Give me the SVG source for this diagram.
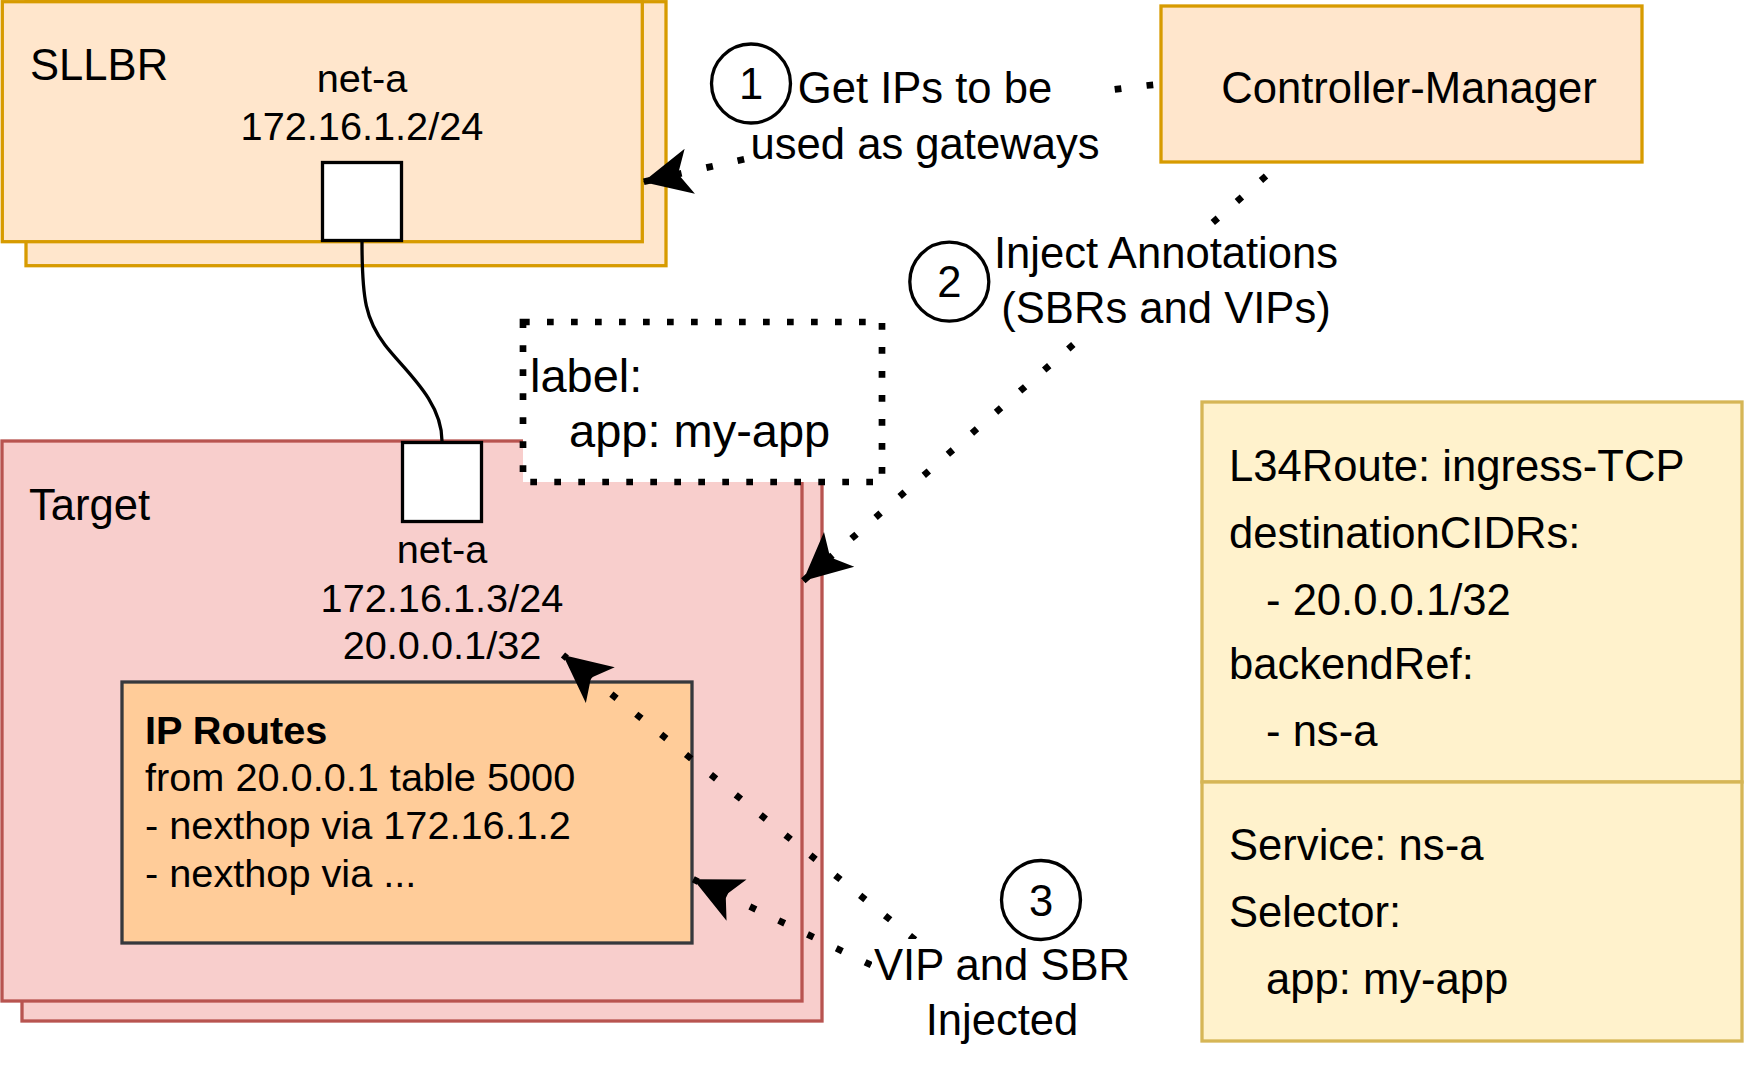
<svg xmlns="http://www.w3.org/2000/svg" width="1744" height="1080" viewBox="0 0 1744 1080">
<style>
text{font-family:"Liberation Sans",Arial,sans-serif;fill:#000}
.t{font-size:43.6px}
.s{font-size:39.7px}
.lb{font-size:47px}
.or{fill:#ffe6cc;stroke:#d79b00;stroke-width:3.3}
.rd{fill:#f8cecc;stroke:#b85450;stroke-width:3.3}
.ip{fill:#ffcc99;stroke:#36393d;stroke-width:3.3}
.yl{fill:#fff2cc;stroke:#d6b656;stroke-width:3.3}
.port{fill:#fff;stroke:#000;stroke-width:3.3}
.dot{fill:none;stroke:#000;stroke-width:6.7;stroke-dasharray:6.7 25.3}
.box{fill:#fff;stroke:#000;stroke-width:6.7;stroke-dasharray:6.7 17.3}
.circ{fill:none;stroke:#000;stroke-width:3.3}
.bg{fill:#fff}
</style>
<defs>
<marker id="arr" viewBox="-50 -26 52 52" markerWidth="52" markerHeight="52" refX="0" refY="0" orient="auto" markerUnits="userSpaceOnUse">
<path d="M0,0 L-48,-23 L-36,0 L-48,23 Z" fill="#000"/>
</marker>
</defs>

<g id="sllbr">
<rect class="or" x="26" y="1.7" width="640" height="264"/>
<rect class="or" x="2.3" y="1.7" width="640" height="240"/>
<text class="t" x="30" y="80">SLLBR</text>
<text class="s" x="362" y="92" text-anchor="middle">net-a</text>
<text class="s" x="362" y="140" text-anchor="middle">172.16.1.2/24</text>
</g>
<g id="sllbr-port">
<rect class="port" x="322.5" y="162.5" width="79" height="78"/>
</g>

<g id="controller-manager">
<rect class="or" x="1161" y="6" width="481" height="156"/>
<text class="t" x="1409" y="103" text-anchor="middle">Controller-Manager</text>
</g>

<g id="target">
<rect class="rd" x="22" y="461" width="800" height="560"/>
<rect class="rd" x="2" y="441" width="800" height="560"/>
<text class="t" x="29" y="520">Target</text>
<text class="s" x="442" y="563" text-anchor="middle">net-a</text>
<text class="s" x="442" y="611.5" text-anchor="middle">172.16.1.3/24</text>
<text class="s" x="442" y="659" text-anchor="middle">20.0.0.1/32</text>
</g>

<g id="ip-routes">
<rect class="ip" x="122" y="682" width="570" height="261"/>
<text class="s" x="145" y="743.5" font-weight="bold">IP Routes</text>
<text class="s" x="145" y="791">from 20.0.0.1 table 5000</text>
<text class="s" x="145" y="838.5">- nexthop via 172.16.1.2</text>
<text class="s" x="145" y="886.5">- nexthop via ...</text>
</g>

<g id="target-port">
<rect class="port" x="402.5" y="442.5" width="79" height="79"/>
</g>

<g id="label-box">
<rect class="box" x="523" y="322" width="359" height="160"/>
<text class="lb" x="530" y="392">label:</text>
<text class="lb" x="569" y="447">app: my-app</text>
</g>

<g id="l34route">
<rect class="yl" x="1202" y="402" width="540" height="380"/>
<text class="t" x="1229" y="480.5">L34Route: ingress-TCP</text>
<text class="t" x="1229" y="547.5">destinationCIDRs:</text>
<text class="t" x="1266" y="614.5">- 20.0.0.1/32</text>
<text class="t" x="1229" y="679">backendRef:</text>
<text class="t" x="1266" y="746">- ns-a</text>
</g>

<g id="service">
<rect class="yl" x="1202" y="782" width="540" height="259"/>
<text class="t" x="1229" y="860">Service: ns-a</text>
<text class="t" x="1229" y="927">Selector:</text>
<text class="t" x="1266" y="994">app: my-app</text>
</g>

<g id="connectors">
<path d="M362,242 C362,300 366,320 385,345 S442,400 442,441" fill="none" stroke="#000" stroke-width="3.3"/>
<path class="dot" d="M1161,84 Q1000,100 643,182" stroke-dashoffset="24" marker-end="url(#arr)"/>
<path class="dot" d="M1266,176 L803,581" marker-end="url(#arr)"/>
<path class="dot" d="M940,960 L563,655" marker-end="url(#arr)"/>
<path class="dot" d="M900,979 L693.3,879.3" marker-end="url(#arr)"/>
</g>

<g id="edge-labels">
<rect class="bg" x="747" y="60" width="360" height="112"/>
<circle class="circ" cx="751" cy="83.5" r="39.5"/>
<text class="t" x="751" y="99" text-anchor="middle">1</text>
<text class="t" x="925" y="103" text-anchor="middle">Get IPs to be</text>
<text class="t" x="925" y="159" text-anchor="middle">used as gateways</text>

<rect class="bg" x="990" y="230" width="352" height="108"/>
<circle class="circ" cx="949.3" cy="281.7" r="39.5"/>
<text class="t" x="949.3" y="297.3" text-anchor="middle">2</text>
<text class="t" x="1166" y="267.5" text-anchor="middle">Inject Annotations</text>
<text class="t" x="1166" y="322.5" text-anchor="middle">(SBRs and VIPs)</text>

<rect class="bg" x="872" y="939" width="262" height="110"/>
<circle class="circ" cx="1041" cy="900" r="39.5"/>
<text class="t" x="1041" y="915.6" text-anchor="middle">3</text>
<text class="t" x="1002" y="980" text-anchor="middle">VIP and SBR</text>
<text class="t" x="1002" y="1035" text-anchor="middle">Injected</text>
</g>
</svg>
